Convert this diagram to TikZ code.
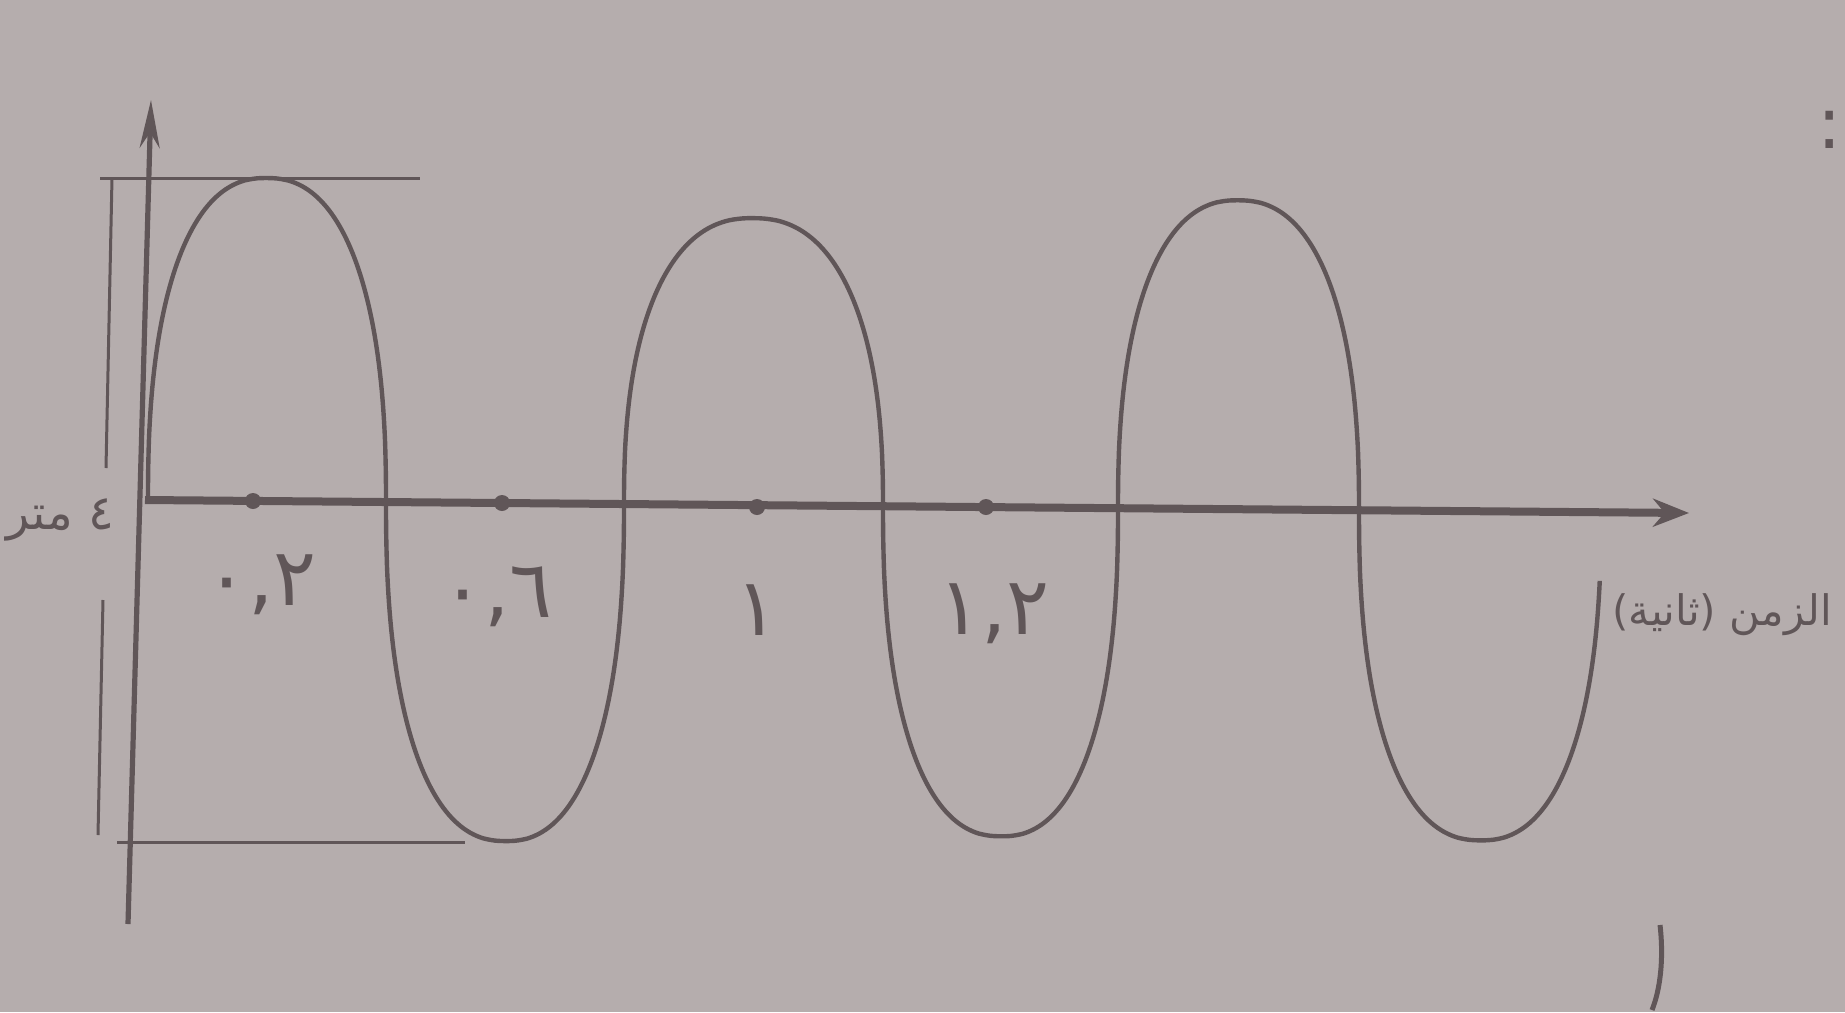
\documentclass[tikz,border=0pt]{standalone}
\usepackage{fontspec}
\usetikzlibrary{arrows.meta}
\newfontfamily\arabicfont[Script=Arabic]{DejaVu Sans}
\newfontfamily\plainsans{DejaVu Sans}
\TeXXeTstate=1
\definecolor{bgc}{RGB}{181,173,173}
\definecolor{ink}{RGB}{96,86,88}
\begin{document}
\begin{tikzpicture}[x=0.5pt,y=-0.5pt,
  declare function={bse(\x)=500+0.0085*(\x-145); sx(\t)=pow(cos(\t),0.85); sy(\t)=pow(sin(\t),0.85);},
  axisline/.style={draw=ink,line width=4pt},
  vaxis/.style={draw=ink,line width=2.6pt},
  waveline/.style={draw=ink,line width=2.2pt},
  thinline/.style={draw=ink,line width=1.5pt},
  tickdot/.style={circle,fill=ink,inner sep=0pt,minimum size=8pt},
  numlabel/.style={text=ink,font=\arabicfont\fontsize{40}{48}\selectfont,inner sep=0pt},
  artext/.style={text=ink,inner sep=0pt}]
\fill[bgc] (0,0) rectangle (1845,1012);
\useasboundingbox (0,0) rectangle (1845,1012);

% axes
\coordinate (o) at (145,500);
\coordinate (xend) at (1689,513);
\coordinate (ytop) at (151,100);
\coordinate (ybot) at (128,924);
\draw[axisline,-{Stealth[length=18pt,width=14pt]}] (o) -- (xend);
\draw[vaxis,-{Stealth[length=24pt,width=10pt]}] (ybot) -- (ytop);

% reference lines
\coordinate (tl) at (100,178);
\coordinate (tr) at (420,178);
\coordinate (bl) at (117,842);
\coordinate (br) at (465,842);
\draw[thinline] (tl) -- (tr);
\draw[thinline] (bl) -- (br);

% dimension line
\coordinate (d1) at (112,178);
\coordinate (d2) at (106,468);
\coordinate (d3) at (103,600);
\coordinate (d4) at (98,835);
\draw[thinline] (d1) -- (d2);
\draw[thinline] (d3) -- (d4);

% wave (slightly flattened elliptic lobes)
\draw[waveline]
  plot[domain=0.1:89.9,samples=60,variable=\t] ({267-119*sx(\t)},{bse(267-119*sx(\t))-323*sy(\t)})
  -- plot[domain=89.9:0.1,samples=60,variable=\t] ({267+119*sx(\t)},{bse(267+119*sx(\t))-323*sy(\t)})
  -- plot[domain=0.1:89.9,samples=60,variable=\t] ({505-119*sx(\t)},{bse(505-119*sx(\t))+338*sy(\t)})
  -- plot[domain=89.9:0.1,samples=60,variable=\t] ({505+119*sx(\t)},{bse(505+119*sx(\t))+338*sy(\t)})
  -- plot[domain=0.1:89.9,samples=60,variable=\t] ({753.5-129.5*sx(\t)},{bse(753.5-129.5*sx(\t))-287*sy(\t)})
  -- plot[domain=89.9:0.1,samples=60,variable=\t] ({753.5+129.5*sx(\t)},{bse(753.5+129.5*sx(\t))-287*sy(\t)})
  -- plot[domain=0.1:89.9,samples=60,variable=\t] ({1000.5-117.5*sx(\t)},{bse(1000.5-117.5*sx(\t))+329*sy(\t)})
  -- plot[domain=89.9:0.1,samples=60,variable=\t] ({1000.5+117.5*sx(\t)},{bse(1000.5+117.5*sx(\t))+329*sy(\t)})
  -- plot[domain=0.1:89.9,samples=60,variable=\t] ({1238.5-120.5*sx(\t)},{bse(1238.5-120.5*sx(\t))-309*sy(\t)})
  -- plot[domain=89.9:0.1,samples=60,variable=\t] ({1238.5+120.5*sx(\t)},{bse(1238.5+120.5*sx(\t))-309*sy(\t)})
  -- plot[domain=0.1:89.9,samples=60,variable=\t] ({1480-121*sx(\t)},{bse(1480-121*sx(\t))+329*sy(\t)})
  -- plot[domain=89.9:9,samples=60,variable=\t] ({1480+121*sx(\t)},{bse(1480+121*sx(\t))+329*sy(\t)});

% ticks
\node[tickdot] (t1) at (253,501) {};
\node[tickdot] (t2) at (502,503) {};
\node[tickdot] (t3) at (757,507) {};
\node[tickdot] (t4) at (986,507) {};

% labels
\node[numlabel] (l1) at (261,585) {٠,٢};
\node[numlabel] (l2) at (497,597) {٠,٦};
\node[numlabel] (l3) at (757,610) {١};
\node[numlabel] (l4) at (994,614) {١,٢};
\node[artext,font=\arabicfont\fontsize{21}{26}\selectfont] (xl) at (1722,615)
  {{\plainsans(}\beginR ثانية\endR{\plainsans)} \beginR الزمن\endR};
\node[artext,font=\arabicfont\fontsize{24}{30}\selectfont] (yl) at (60,520) {\beginR ٤ متر\endR};
\node[artext,font=\arabicfont\fontsize{36}{40}\selectfont] (colon) at (1830,130) {:};

% stray stroke bottom right
\coordinate (s1) at (1660,925);
\coordinate (s2) at (1652,1010);
\draw[ink,line width=2.5pt] (s1) .. controls (1664,960) and (1660,990) .. (s2);
\end{tikzpicture}
\end{document}
